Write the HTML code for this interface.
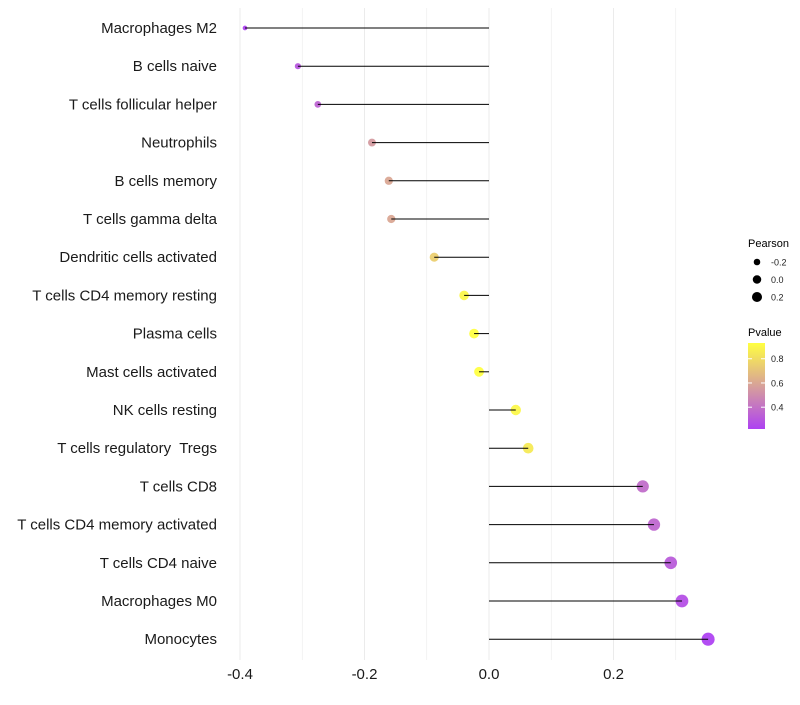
<!DOCTYPE html>
<html><head><meta charset="utf-8"><style>
body{margin:0;background:#fff;font-family:"Liberation Sans",sans-serif}
svg text{font-family:"Liberation Sans",sans-serif;white-space:pre}
</style></head><body>
<svg id="chart" width="800" height="700"></svg>
<script>
const categories=["Macrophages M2","B cells naive","T cells follicular helper","Neutrophils","B cells memory","T cells gamma delta","Dendritic cells activated","T cells CD4 memory resting","Plasma cells","Mast cells activated","NK cells resting","T cells regulatory  Tregs","T cells CD8","T cells CD4 memory activated","T cells CD4 naive","Macrophages M0","Monocytes"];
const pearson=[-0.392,-0.307,-0.275,-0.188,-0.161,-0.157,-0.088,-0.040,-0.024,-0.016,0.043,0.063,0.247,0.265,0.292,0.310,0.352];
const pvalues=[0.22,0.30,0.35,0.55,0.60,0.60,0.75,0.90,0.93,0.95,0.90,0.85,0.38,0.36,0.32,0.27,0.22];
const xTicks=[-0.4,-0.2,0.0,0.2];
const xTickLabels=["-0.4","-0.2","0.0","0.2"];
const sizeLegend=[-0.2,0.0,0.2];
const colorLegend=[0.4,0.6,0.8];

const NS="http://www.w3.org/2000/svg";
const svg=document.getElementById('chart');
function mk(t,a,p){const e=document.createElementNS(NS,t);for(const k in a)e.setAttribute(k,a[k]);(p||svg).appendChild(e);return e;}
const x=v=>489+v*622.5;
const y=i=>28+i*38.2;
const r=v=>Math.max(1.5,Math.sqrt(Math.max(0,25+50*v)));
const pMin=0.22,pMax=0.93;
function col(p){let t=(p-pMin)/(pMax-pMin);t=Math.max(0,Math.min(1,t));
 const a=[160,32,240],b=[255,255,32];
 return `rgb(${a.map((c,i)=>Math.round(c+(b[i]-c)*t)).join(',')})`;}

for(let v=-0.4;v<=0.35;v+=0.1){const g=mk('line',{x1:x(v),x2:x(v),y1:8,y2:660,stroke:'#ebebeb','stroke-width':Math.abs(Math.round(v*10))%2===0?1:0.6});
}

categories.forEach((c,i)=>{
 const t=mk('text',{x:217,y:y(i)+5,'text-anchor':'end','font-size':15,fill:'#1a1a1a'});t.textContent=c;
 
 const d=mk('circle',{cx:x(pearson[i]),cy:y(i),r:r(pearson[i]),fill:col(pvalues[i]),'fill-opacity':0.8});
 
 const l=mk('line',{x1:x(0),x2:x(pearson[i]),y1:y(i),y2:y(i),stroke:'#000','stroke-width':1});
 
});
xTicks.forEach((v,i)=>{const t=mk('text',{x:x(v),y:679,'text-anchor':'middle','font-size':15,fill:'#1a1a1a'});t.textContent=xTickLabels[i];
 });

let t=mk('text',{x:748,y:247,'font-size':11,fill:'#000'});t.textContent='Pearson';

sizeLegend.forEach((v,i)=>{const yy=262+i*17.5;
 const c=mk('circle',{cx:757,cy:yy,r:r(v)*0.85,fill:'#000'});
 const tt=mk('text',{x:771,y:yy+3.5,'font-size':9,fill:'#222'});tt.textContent=v.toFixed(1);
 });

t=mk('text',{x:748,y:336,'font-size':11,fill:'#000'});t.textContent='Pvalue';

const defs=mk('defs',{});const gr=mk('linearGradient',{id:'pg',x1:0,y1:1,x2:0,y2:0},defs);
mk('stop',{offset:0,'stop-color':col(pMin)},gr);mk('stop',{offset:0.5,'stop-color':col((pMin+pMax)/2)},gr);mk('stop',{offset:1,'stop-color':col(pMax)},gr);
const cb=mk('rect',{x:748,y:343,width:17,height:86,fill:'url(#pg)','fill-opacity':0.85});

const cy=p=>429-(p-pMin)/(pMax-pMin)*86;
colorLegend.forEach(p=>{mk('line',{x1:748,x2:752,y1:cy(p),y2:cy(p),stroke:'#fff'});mk('line',{x1:761,x2:765,y1:cy(p),y2:cy(p),stroke:'#fff'});
 const tt=mk('text',{x:771,y:cy(p)+3.5,'font-size':9,fill:'#222'});tt.textContent=p.toFixed(1);
 });
</script>
</body></html>
